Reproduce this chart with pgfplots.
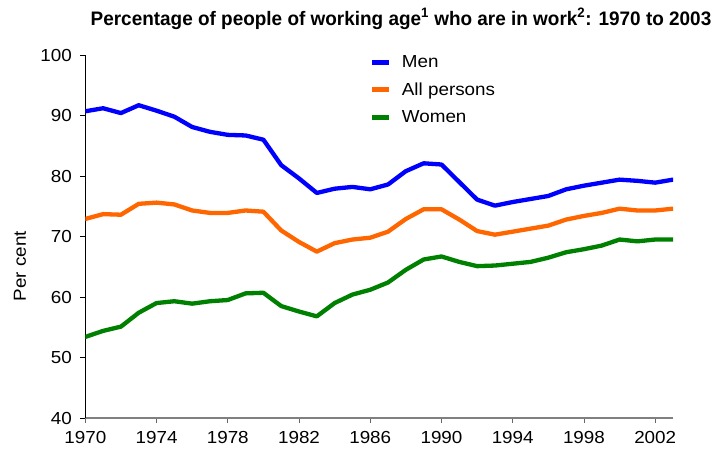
\documentclass[border=0pt]{standalone}
\usepackage{fontspec}
\setmainfont{Liberation Sans}[FakeStretch=1.08]
\newfontfamily\titlefont{Liberation Sans}[FakeStretch=0.97]
\usepackage{pgfplots}
\pgfplotsset{compat=1.18}
\usepackage{pgfplotstable}
\definecolor{menblue}{RGB}{0,0,255}
\definecolor{allorange}{RGB}{255,102,0}
\definecolor{womengreen}{RGB}{0,128,0}
\pgfplotstableread{
year men all women
1970 90.7 72.9 53.4
1971 91.2 73.7 54.4
1972 90.4 73.6 55.1
1973 91.7 75.4 57.4
1974 90.8 75.6 59.0
1975 89.8 75.3 59.3
1976 88.1 74.3 58.9
1977 87.3 73.9 59.3
1978 86.8 73.9 59.5
1979 86.7 74.3 60.6
1980 86.0 74.1 60.7
1981 81.8 71.0 58.5
1982 79.6 69.1 57.6
1983 77.2 67.5 56.8
1984 77.9 68.9 59.0
1985 78.2 69.5 60.4
1986 77.8 69.8 61.2
1987 78.6 70.8 62.4
1988 80.8 72.9 64.5
1989 82.1 74.5 66.2
1990 81.9 74.5 66.7
1991 79.0 72.8 65.8
1992 76.1 70.9 65.1
1993 75.1 70.3 65.2
1994 75.7 70.8 65.5
1995 76.2 71.3 65.8
1996 76.7 71.8 66.5
1997 77.8 72.8 67.4
1998 78.4 73.4 67.9
1999 78.9 73.9 68.5
2000 79.4 74.6 69.5
2001 79.2 74.3 69.2
2002 78.9 74.3 69.5
2003 79.4 74.6 69.5
}\datatable
\begin{document}
\begin{tikzpicture}
\useasboundingbox (0,0) rectangle (721bp,456bp);
\begin{axis}[
  at={(85.3bp,38bp)}, anchor=south west,
  scale only axis, width=587.7bp, height=363bp,
  xmin=1970, xmax=2003, ymin=40, ymax=100,
  axis lines*=left,
  x axis line style={draw=gray, line width=1.4bp},
  y axis line style={draw=black, line width=0.8bp},
  xtick={1970,1974,...,2002}, ytick={40,50,...,100},
  tick align=outside, major tick length=5bp,
  x tick style={draw=gray!80!black, line width=0.8bp},
  y tick style={draw=black, line width=0.8bp},
  tick label style={font=\fontsize{17.5}{20}\selectfont},
  /pgf/number format/assume math mode=true,
  /pgf/number format/1000 sep={},
  yticklabel style={xshift=-5bp},
  xticklabel style={yshift=-5bp},
  legend cell align=left,
  legend style={draw=none, fill=none, at={(0.484,1.004)}, anchor=north west,
    font=\fontsize{17.5}{20}\selectfont, row sep=9.5bp, inner sep=0pt,
    nodes={inner sep=2pt}},
  legend image code/.code={\draw[line width=5bp, line cap=butt] (0bp,0bp) -- (17bp,0bp);},
  every axis plot/.append style={line width=4.3bp, line join=round, line cap=round},
]
\addplot[menblue] table[x=year, y=men] {\datatable};
\addlegendentry{\hspace{8bp}Men}
\addplot[allorange] table[x=year, y=all] {\datatable};
\addlegendentry{\hspace{8bp}All persons}
\addplot[womengreen] table[x=year, y=women] {\datatable};
\addlegendentry{\hspace{8bp}Women}
\end{axis}
\node[font=\titlefont\bfseries\fontsize{19.6}{22}\selectfont] at (401bp,437bp)
  {Percentage of people of working age\textsuperscript{1} who are in work\textsuperscript{2}: 1970 to 2003};
\node[rotate=90, font=\fontsize{17.5}{20}\selectfont] at (20bp,190bp) {Per cent};
\end{tikzpicture}
\end{document}
